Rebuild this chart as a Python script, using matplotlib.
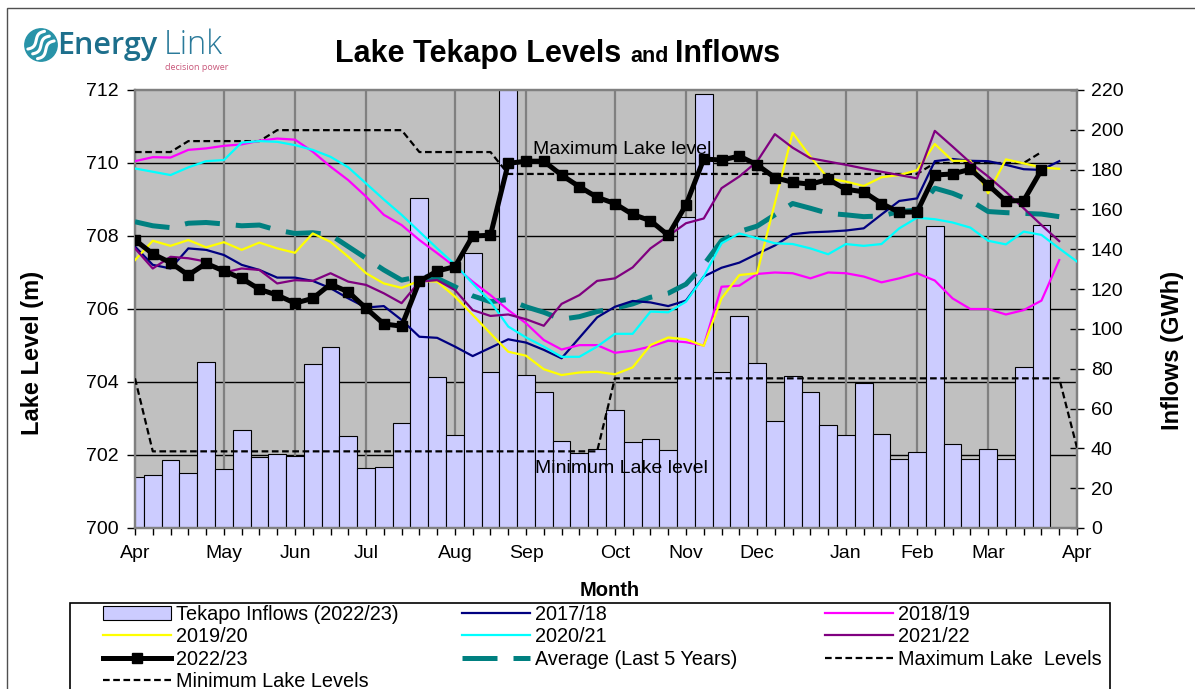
"""Lake Tekapo weekly levels (several hydro years) with 2022/23 inflows on a secondary axis."""

import numpy as np
import matplotlib.pyplot as plt
from matplotlib.patches import Rectangle, Circle

plt.rcParams['font.family'] = ['Liberation Sans', 'DejaVu Sans']

# ============================================================
# Data (weekly points, week 0 = start of April)
# ============================================================
month_weeks = [0, 5, 9, 13, 18, 22, 27, 31, 35, 40, 44, 48, 53]
month_labels = ["Apr", "May", "Jun", "Jul", "Aug", "Sep", "Oct",
                "Nov", "Dec", "Jan", "Feb", "Mar", "Apr"]

inflows_2223 = [25.6, 26.5, 34.3, 27.5, 83.5, 29.5, 49.4, 35.7, 37.2, 36.3,
                82.2, 90.7, 46.0, 30.0, 30.5, 52.6, 165.7, 76.0, 46.5, 138.1,
                78.2, 240.0, 76.7, 68.1, 43.5, 37.5, 39.5, 59.1, 43.0, 44.9,
                39.0, 156.0, 218.2, 78.4, 106.6, 82.7, 53.9, 76.2, 68.5, 51.9,
                46.9, 72.7, 47.0, 34.7, 38.0, 151.5, 42.0, 34.7, 39.5, 34.5,
                80.7, 152.2]

lvl_1718 = [707.71, 707.21, 707.11, 707.66, 707.62, 707.48, 707.21, 707.07, 706.86, 706.86,
            706.77, 706.57, 706.29, 706.04, 706.08, 705.70, 705.24, 705.21, 704.97, 704.71,
            704.94, 705.17, 705.08, 704.88, 704.65, 705.21, 705.77, 706.06, 706.22, 706.18,
            706.08, 706.23, 706.89, 707.13, 707.27, 707.51, 707.74, 708.05, 708.10, 708.12,
            708.15, 708.21, 708.59, 708.96, 709.03, 710.05, 710.11, 710.06, 710.05, 709.95,
            709.83, 709.81, 710.05]

lvl_1819 = [710.05, 710.16, 710.15, 710.36, 710.40, 710.47, 710.51, 710.61, 710.67, 710.64,
            710.31, 709.90, 709.53, 709.08, 708.58, 708.30, 707.89, 707.53, 707.16, 706.75,
            706.38, 705.97, 705.61, 705.15, 704.89, 705.01, 705.01, 704.80, 704.86, 704.97,
            705.13, 705.09, 705.00, 706.61, 706.64, 706.96, 707.00, 706.98, 706.84, 707.00,
            706.98, 706.89, 706.73, 706.84, 706.98, 706.78, 706.29, 706.00, 706.00, 705.85,
            705.97, 706.23, 707.34]

lvl_1920 = [707.34, 707.87, 707.73, 707.89, 707.69, 707.83, 707.62, 707.82, 707.66, 707.54,
            708.07, 707.84, 707.43, 706.98, 706.70, 706.58, 706.77, 706.75, 706.34, 705.84,
            705.33, 704.83, 704.72, 704.35, 704.19, 704.26, 704.28, 704.21, 704.40, 705.01,
            705.22, 705.17, 704.99, 706.29, 706.93, 706.98, 708.90, 710.83, 710.17, 709.58,
            709.49, 709.37, 709.61, 709.67, 709.80, 710.52, 710.06, 710.06, 709.17, 710.10,
            709.99, 709.88, 709.84]

lvl_2021 = [709.85, 709.76, 709.67, 709.88, 710.05, 710.08, 710.56, 710.60, 710.58, 710.49,
            710.36, 710.17, 709.88, 709.44, 709.00, 708.58, 708.12, 707.66, 707.22, 706.70,
            706.20, 705.52, 705.22, 704.97, 704.69, 704.69, 704.97, 705.32, 705.32, 705.93,
            705.91, 706.20, 706.89, 707.80, 708.07, 707.94, 707.80, 707.78, 707.66, 707.50,
            707.78, 707.73, 707.78, 708.21, 708.50, 708.46, 708.37, 708.23, 707.87, 707.77,
            708.12, 708.03, 707.66, 707.30]

lvl_2122 = [707.66, 707.11, 707.43, 707.39, 707.30, 707.00, 707.11, 707.07, 706.70, 706.79,
            706.77, 706.98, 706.75, 706.66, 706.43, 706.16, 706.75, 706.79, 706.52, 705.97,
            705.81, 705.85, 705.72, 705.54, 706.14, 706.38, 706.77, 706.84, 707.14, 707.66,
            708.00, 708.35, 708.48, 709.31, 709.63, 710.04, 710.79, 710.42, 710.13, 710.04,
            709.95, 709.85, 709.76, 709.67, 709.58, 710.88, 710.45, 710.01, 709.63, 709.21,
            708.76, 708.30, 707.86]

lvl_2223 = [707.89, 707.51, 707.27, 706.93, 707.25, 707.04, 706.84, 706.54, 706.38, 706.16,
            706.29, 706.68, 706.47, 706.02, 705.59, 705.53, 706.76, 707.04, 707.16, 708.00,
            708.02, 709.99, 710.05, 710.05, 709.67, 709.35, 709.06, 708.89, 708.59, 708.42,
            708.02, 708.85, 710.11, 710.08, 710.19, 709.95, 709.60, 709.47, 709.42, 709.55,
            709.28, 709.21, 708.89, 708.65, 708.66, 709.67, 709.70, 709.83, 709.40, 708.96,
            708.97, 709.81]

lvl_avg5 = [708.39, 708.28, 708.23, 708.35, 708.37, 708.33, 708.28, 708.30, 708.16, 708.07,
            708.09, 708.03, 707.71, 707.39, 707.07, 706.79, 706.89, 706.84, 706.61, 706.36,
            706.20, 706.26, 706.06, 705.91, 705.72, 705.79, 705.93, 706.02, 706.14, 706.32,
            706.43, 706.68, 707.21, 707.87, 708.12, 708.27, 708.58, 708.89, 708.76, 708.62,
            708.58, 708.53, 708.55, 708.67, 708.71, 709.31, 709.17, 708.97, 708.67, 708.64,
            708.62, 708.60, 708.53]

max_levels = [710.3, 710.3, 710.3, 710.6, 710.6, 710.6, 710.6, 710.6, 710.9, 710.9,
              710.9, 710.9, 710.9, 710.9, 710.9, 710.9, 710.3, 710.3, 710.3, 710.3,
              710.3, 709.7, 709.7, 709.7, 709.7, 709.7, 709.7, 709.7, 709.7, 709.7,
              709.7, 709.7, 709.7, 709.7, 709.7, 709.7, 709.7, 709.7, 709.7, 709.7,
              709.7, 709.7, 709.7, 709.7, 709.7, 710.0, 710.0, 710.0, 710.0, 710.0,
              710.0, 710.3]

min_levels = [704.1, 702.1, 702.1, 702.1, 702.1, 702.1, 702.1, 702.1, 702.1, 702.1,
              702.1, 702.1, 702.1, 702.1, 702.1, 702.1, 702.1, 702.1, 702.1, 702.1,
              702.1, 702.1, 702.1, 702.1, 702.1, 702.1, 702.1, 704.1, 704.1, 704.1,
              704.1, 704.1, 704.1, 704.1, 704.1, 704.1, 704.1, 704.1, 704.1, 704.1,
              704.1, 704.1, 704.1, 704.1, 704.1, 704.1, 704.1, 704.1, 704.1, 704.1,
              704.1, 704.1, 704.1, 702.2]

level_ticks = [700, 702, 704, 706, 708, 710, 712]
inflow_ticks = [0, 20, 40, 60, 80, 100, 120, 140, 160, 180, 200, 220]


# ============================================================
# Figure / axes setup
# ============================================================
W_PX, H_PX = 1195, 689
fig = plt.figure(figsize=(W_PX / 100, H_PX / 100), dpi=100)


def fx(px):
    return px / W_PX


def fy(py):
    return 1 - py / H_PX


ax = fig.add_axes([fx(135), fy(528), fx(1077) - fx(135), fy(90) - fy(528)])
ax_in = ax.twinx()
ax.set_zorder(2)
ax_in.set_zorder(1)
ax.patch.set_visible(False)
ax_in.patch.set_visible(True)
ax_in.patch.set_facecolor('#C0C0C0')

lv_lo, lv_hi = level_ticks[0], level_ticks[-1]
in_lo, in_hi = inflow_ticks[0], inflow_ticks[-1]
ax.set_ylim(lv_lo, lv_hi)
ax_in.set_ylim(in_lo, in_hi)
ax.set_xlim(month_weeks[0], month_weeks[-1])


def level_to_inflow(lv):
    return in_lo + (lv - lv_lo) / (lv_hi - lv_lo) * (in_hi - in_lo)


# gridlines live on the bar axes so they sit behind the bars
for lv in level_ticks[1:-1]:
    ax_in.axhline(level_to_inflow(lv), color='black', lw=1.0, zorder=0)
for w in month_weeks[1:-1]:
    ax_in.axvline(w, color='#808080', lw=1.6, zorder=0)

# -------------------- Inflow bars --------------------
bars = ax_in.bar(np.arange(len(inflows_2223)), inflows_2223, width=1.0,
                 color='#CCCCFF', edgecolor='black', linewidth=0.8, zorder=2)

# -------------------- Level lines --------------------
def weeks(s):
    return np.arange(len(s))


h_max, = ax.plot(weeks(max_levels), max_levels, color='black', lw=1.6,
                 dashes=(3, 1.6), zorder=3)
h_min, = ax.plot(weeks(min_levels), min_levels, color='black', lw=1.6,
                 dashes=(3, 1.6), zorder=3)
h_avg, = ax.plot(weeks(lvl_avg5), lvl_avg5, color='#008080', lw=3.6,
                 dashes=(7, 3.2), zorder=4)
h1718, = ax.plot(weeks(lvl_1718), lvl_1718, color='#000080', lw=1.6, zorder=5)
h1819, = ax.plot(weeks(lvl_1819), lvl_1819, color='#FF00FF', lw=1.6, zorder=5)
h1920, = ax.plot(weeks(lvl_1920), lvl_1920, color='#FFFF00', lw=1.6, zorder=5)
h2021, = ax.plot(weeks(lvl_2021), lvl_2021, color='#00FFFF', lw=1.6, zorder=5)
h2122, = ax.plot(weeks(lvl_2122), lvl_2122, color='#800080', lw=1.6, zorder=5)
h2223, = ax.plot(weeks(lvl_2223), lvl_2223, color='black', lw=3.6,
                 marker='s', markersize=6.5, zorder=6)

ax.text(22.4, 710.36, "Maximum Lake level", fontsize=14, va='center', zorder=7)
ax.text(22.5, 701.62, "Minimum Lake level", fontsize=14, va='center', zorder=7)

# -------------------- Axes styling --------------------
ax.set_xticks(month_weeks)
ax.set_xticklabels(month_labels)
ax.set_xticks(np.arange(month_weeks[-1] + 1), minor=True)
ax.tick_params(axis='x', which='both', direction='out', length=5, width=1,
               labelsize=14, pad=7)
ax.set_yticks(level_ticks)
ax.tick_params(axis='y', direction='out', length=6, width=1, labelsize=14, pad=6)
ax_in.set_yticks(inflow_ticks)
ax_in.tick_params(axis='y', direction='inout', length=10, width=1,
                  labelsize=14, pad=5)

for a in (ax, ax_in):
    for sp in a.spines.values():
        sp.set_color('#808080')
        sp.set_linewidth(1.6)

# -------------------- Titles & labels --------------------
fig.text(fx(335), fy(62), "Lake Tekapo Levels", fontsize=22, fontweight='bold',
         va='baseline')
fig.text(fx(630), fy(62), "and", fontsize=15.5, fontweight='bold', va='baseline')
fig.text(fx(675), fy(62), "Inflows", fontsize=22, fontweight='bold', va='baseline')

fig.text(fx(33), fy(353), "Lake Level (m)", fontsize=17, fontweight='bold',
         rotation=90, ha='center', va='center')
fig.text(fx(1173), fy(350), "Inflows (GWh)", fontsize=17, fontweight='bold',
         rotation=90, ha='center', va='center')
fig.text(fx(610), fy(591), "Month", fontsize=14.5, fontweight='bold',
         ha='center', va='center')

# -------------------- Legend (three columns, Excel-style fixed widths) --------------------
legend_cols = [
    ([bars, h1920, h2223, h_min],
     ["Tekapo Inflows (2022/23)", "2019/20", "2022/23", "Minimum Lake Levels"], 103),
    ([h1718, h2021, h_avg],
     ["2017/18", "2020/21", "Average (Last 5 Years)"], 462),
    ([h1819, h2122, h_max],
     ["2018/19", "2021/22", "Maximum Lake  Levels"], 825),
]
for col_handles, col_labels, x0 in legend_cols:
    fig.legend(col_handles, col_labels, loc='upper left',
               bbox_to_anchor=(fx(x0), fy(605)), ncol=1, frameon=False,
               fontsize=14.3, borderpad=0, borderaxespad=0,
               labelspacing=0.17, handlelength=3.4, handletextpad=0.3)

fig.patches.append(Rectangle((fx(70), fy(720)), fx(1110) - fx(70), fy(603) - fy(720),
                             transform=fig.transFigure, fill=False,
                             edgecolor='black', lw=1.2))

# outer chart border
fig.patches.append(Rectangle((fx(7), fy(720)), 1.2, fy(8) - fy(720),
                             transform=fig.transFigure, fill=False,
                             edgecolor='#505050', lw=1.0))

# -------------------- Logo --------------------
logo = fig.add_axes([fx(24), fy(62), fx(34), fy(28) - fy(62)])
logo.set_xlim(-1.05, 1.05)
logo.set_ylim(-1.05, 1.05)
logo.set_aspect('equal')
logo.axis('off')
logo.add_patch(Circle((0, 0), 1.0, color='#2893a8'))
t = np.linspace(-0.75, 0.75, 40)
for off in (-0.42, 0.0, 0.42):
    u = t
    v = off + 0.16 * np.sin(4.0 * t)
    c, s = np.cos(np.pi / 4), np.sin(np.pi / 4)
    logo.plot(c * u - s * v, s * u + c * v, color='white', lw=2.2,
              solid_capstyle='round')

fig.text(fx(57), fy(54), "Energy", fontsize=22, color='#1d6f8c',
         family=['Open Sans', 'DejaVu Sans'], fontweight='semibold', va='baseline')
fig.text(fx(164), fy(54), "Link", fontsize=23.5, color='#2a7a9a',
         family=['Open Sans', 'DejaVu Sans'], fontweight='light', va='baseline')
fig.text(fx(228), fy(70), "decision power", fontsize=6.5, color='#c8577a',
         family=['Open Sans', 'DejaVu Sans'], ha='right', va='baseline')

plt.savefig("out.png", dpi=100)
plt.close(fig)
